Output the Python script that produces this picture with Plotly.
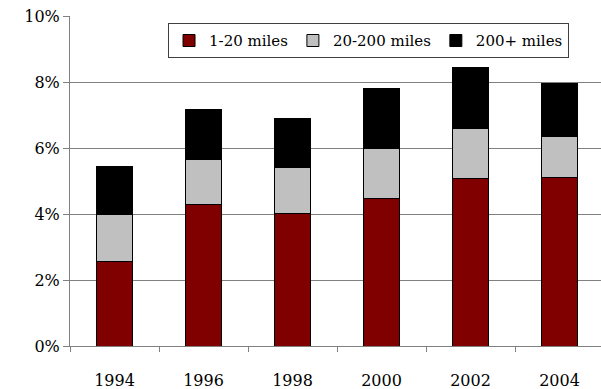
import plotly.graph_objects as go

# Share of trips by distance band, stacked per survey year
years = ["1994", "1996", "1998", "2000", "2002", "2004"]
short_trips = [2.55, 4.29, 4.02, 4.46, 5.09, 5.12]      # 1-20 miles
mid_trips = [1.45, 1.36, 1.39, 1.53, 1.49, 1.24]        # 20-200 miles
long_trips = [1.43, 1.51, 1.49, 1.81, 1.86, 1.60]       # 200+ miles

y_ticks = [0, 2, 4, 6, 8, 10]
y_tick_labels = ["0%", "2%", "4%", "6%", "8%", "10%"]

series = [
    ("1-20 miles", short_trips, "#800000"),
    ("20-200 miles", mid_trips, "#C0C0C0"),
    ("200+ miles", long_trips, "#000000"),
]

fig = go.Figure()
for name, vals, color in series:
    fig.add_trace(go.Bar(
        x=years, y=vals, name=name,
        marker=dict(color=color, line=dict(color="#000000", width=1)),
    ))

FONT = "DejaVu Serif"

fig.update_layout(
    width=601, height=389,
    margin=dict(l=70, r=0, t=16, b=43),
    barmode="stack",
    bargap=0.595,
    plot_bgcolor="white",
    paper_bgcolor="white",
    font=dict(family=FONT, size=16, color="#000000"),
    legend=dict(
        orientation="h",
        x=0.1846, y=0.978, xanchor="left", yanchor="top",
        bordercolor="#404040", borderwidth=1, bgcolor="white",
        font=dict(family=FONT, size=15),
        traceorder="normal",
        itemwidth=30,
        tracegroupgap=0,
    ),
    showlegend=True,
)

fig.update_xaxes(
    type="category",
    range=[-0.5, 5.466],
    showline=True, linecolor="#808080", linewidth=1,
    ticks="outside", tickson="boundaries", ticklen=5, tickcolor="#808080",
    ticklabelstandoff=20,
    showgrid=False,
    tickfont=dict(family=FONT, size=16),
)
fig.update_yaxes(
    range=[0, 10],
    tickvals=y_ticks,
    ticktext=y_tick_labels,
    showgrid=True, gridcolor="#808080", gridwidth=1,
    showline=True, linecolor="#808080", linewidth=1,
    ticks="outside", ticklen=6, tickcolor="#808080",
    zeroline=False,
    tickfont=dict(family=FONT, size=16),
)

fig.write_html("out.html")
